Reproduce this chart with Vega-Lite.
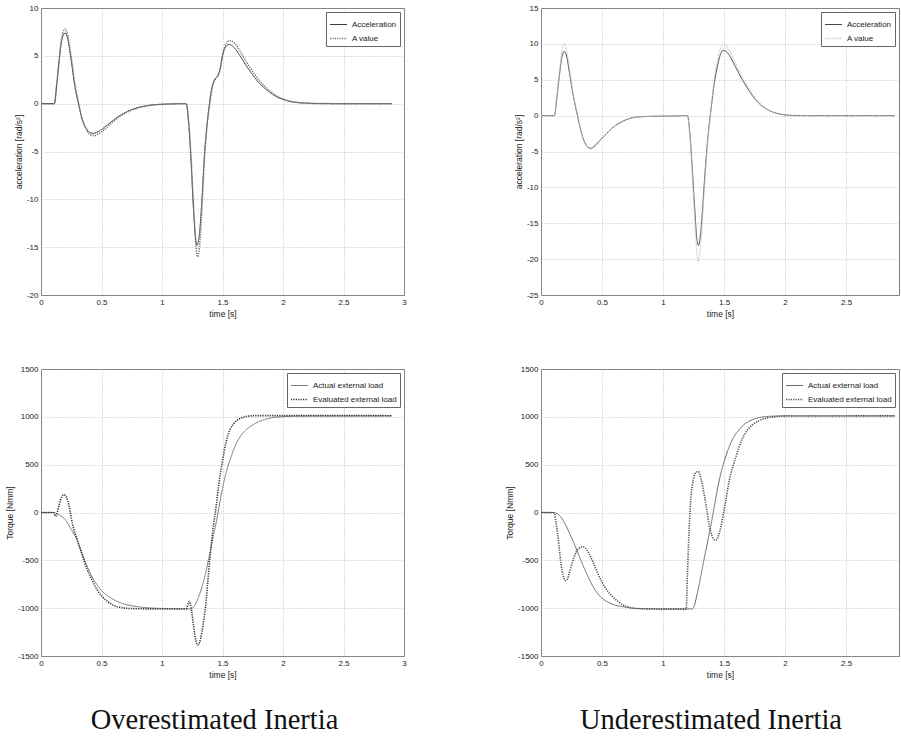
{
  "$schema": "https://vega.github.io/schema/vega-lite/v6.json",
  "padding": {"left": 5, "top": 3, "right": 0, "bottom": 5},
  "background": "white",
  "columns": 2,
  "spacing": {"row": 74, "column": 137},
  "bounds": "flush",
  "resolve": {
    "scale": {"color": "independent", "strokeDash": "independent", "strokeWidth": "independent"},
    "legend": {"color": "independent", "strokeDash": "independent"}
  },
  "config": {
    "font": "Liberation Sans",
    "view": {"stroke": "#7a7a7a", "strokeWidth": 1},
    "axis": {
      "domain": false,
      "ticks": false,
      "labelFont": "Liberation Sans",
      "labelFontSize": 8,
      "labelColor": "#222",
      "labelPadding": 3,
      "labelFlush": false,
      "labelOverlap": false,
      "titleFont": "Liberation Sans",
      "titleFontSize": 8.5,
      "titleFontWeight": "normal",
      "titleColor": "#222",
      "titlePadding": 3,
      "gridColor": "#a8a8a8",
      "gridDash": [1, 2],
      "gridWidth": 0.8
    },
    "legend": {
      "labelFont": "Liberation Sans",
      "labelFontSize": 8,
      "labelColor": "#222"
    },
    "line": {"interpolate": "monotone"}
  },
  "datasets": {
    "tl": [
      {"t":0,"v":0,"s":"Acceleration"},{"t":0.1,"v":0,"s":"Acceleration"},{"t":0.11,"v":0,"s":"Acceleration"},{"t":0.13,"v":2,"s":"Acceleration"},{"t":0.15,"v":4.5,"s":"Acceleration"},{"t":0.17,"v":6.5,"s":"Acceleration"},{"t":0.19,"v":7.3,"s":"Acceleration"},{"t":0.2,"v":7.4,"s":"Acceleration"},{"t":0.22,"v":6.8,"s":"Acceleration"},{"t":0.25,"v":4.5,"s":"Acceleration"},{"t":0.28,"v":1.8,"s":"Acceleration"},{"t":0.31,"v":0,"s":"Acceleration"},{"t":0.34,"v":-1.6,"s":"Acceleration"},{"t":0.37,"v":-2.5,"s":"Acceleration"},{"t":0.4,"v":-3.0,"s":"Acceleration"},{"t":0.43,"v":-3.1,"s":"Acceleration"},{"t":0.46,"v":-3.0,"s":"Acceleration"},{"t":0.5,"v":-2.7,"s":"Acceleration"},{"t":0.55,"v":-2.2,"s":"Acceleration"},{"t":0.6,"v":-1.7,"s":"Acceleration"},{"t":0.65,"v":-1.25,"s":"Acceleration"},{"t":0.7,"v":-0.9,"s":"Acceleration"},{"t":0.75,"v":-0.62,"s":"Acceleration"},{"t":0.8,"v":-0.42,"s":"Acceleration"},{"t":0.85,"v":-0.27,"s":"Acceleration"},{"t":0.9,"v":-0.17,"s":"Acceleration"},{"t":0.95,"v":-0.1,"s":"Acceleration"},{"t":1.0,"v":-0.06,"s":"Acceleration"},{"t":1.1,"v":-0.02,"s":"Acceleration"},{"t":1.2,"v":0,"s":"Acceleration"},{"t":1.22,"v":-2,"s":"Acceleration"},{"t":1.24,"v":-6,"s":"Acceleration"},{"t":1.26,"v":-11,"s":"Acceleration"},{"t":1.28,"v":-14.3,"s":"Acceleration"},{"t":1.29,"v":-14.8,"s":"Acceleration"},{"t":1.31,"v":-13.5,"s":"Acceleration"},{"t":1.33,"v":-10,"s":"Acceleration"},{"t":1.35,"v":-5.5,"s":"Acceleration"},{"t":1.37,"v":-2.5,"s":"Acceleration"},{"t":1.39,"v":-0.2,"s":"Acceleration"},{"t":1.41,"v":1.5,"s":"Acceleration"},{"t":1.43,"v":2.4,"s":"Acceleration"},{"t":1.46,"v":2.9,"s":"Acceleration"},{"t":1.48,"v":3.6,"s":"Acceleration"},{"t":1.5,"v":5.0,"s":"Acceleration"},{"t":1.52,"v":5.8,"s":"Acceleration"},{"t":1.555,"v":6.2,"s":"Acceleration"},{"t":1.6,"v":5.8,"s":"Acceleration"},{"t":1.65,"v":4.9,"s":"Acceleration"},{"t":1.7,"v":3.9,"s":"Acceleration"},{"t":1.75,"v":3.0,"s":"Acceleration"},{"t":1.8,"v":2.2,"s":"Acceleration"},{"t":1.85,"v":1.6,"s":"Acceleration"},{"t":1.9,"v":1.1,"s":"Acceleration"},{"t":1.95,"v":0.7,"s":"Acceleration"},{"t":2.0,"v":0.45,"s":"Acceleration"},{"t":2.05,"v":0.25,"s":"Acceleration"},{"t":2.1,"v":0.14,"s":"Acceleration"},{"t":2.2,"v":0.05,"s":"Acceleration"},{"t":2.3,"v":0.01,"s":"Acceleration"},{"t":2.5,"v":0,"s":"Acceleration"},{"t":2.9,"v":0,"s":"Acceleration"},
      {"t":0,"v":0,"s":"A value"},{"t":0.1,"v":0,"s":"A value"},{"t":0.11,"v":0,"s":"A value"},{"t":0.13,"v":2,"s":"A value"},{"t":0.15,"v":4.6,"s":"A value"},{"t":0.17,"v":6.8,"s":"A value"},{"t":0.19,"v":7.7,"s":"A value"},{"t":0.2,"v":7.8,"s":"A value"},{"t":0.22,"v":7.2,"s":"A value"},{"t":0.25,"v":4.8,"s":"A value"},{"t":0.28,"v":2.0,"s":"A value"},{"t":0.31,"v":0.1,"s":"A value"},{"t":0.34,"v":-1.6,"s":"A value"},{"t":0.37,"v":-2.6,"s":"A value"},{"t":0.4,"v":-3.2,"s":"A value"},{"t":0.44,"v":-3.35,"s":"A value"},{"t":0.47,"v":-3.2,"s":"A value"},{"t":0.5,"v":-2.95,"s":"A value"},{"t":0.55,"v":-2.4,"s":"A value"},{"t":0.6,"v":-1.85,"s":"A value"},{"t":0.65,"v":-1.35,"s":"A value"},{"t":0.7,"v":-0.97,"s":"A value"},{"t":0.75,"v":-0.67,"s":"A value"},{"t":0.8,"v":-0.45,"s":"A value"},{"t":0.85,"v":-0.29,"s":"A value"},{"t":0.9,"v":-0.18,"s":"A value"},{"t":0.95,"v":-0.11,"s":"A value"},{"t":1.0,"v":-0.07,"s":"A value"},{"t":1.1,"v":-0.02,"s":"A value"},{"t":1.2,"v":0,"s":"A value"},{"t":1.22,"v":-1.8,"s":"A value"},{"t":1.24,"v":-5.5,"s":"A value"},{"t":1.26,"v":-10.5,"s":"A value"},{"t":1.28,"v":-14.8,"s":"A value"},{"t":1.295,"v":-16.0,"s":"A value"},{"t":1.31,"v":-15,"s":"A value"},{"t":1.33,"v":-11,"s":"A value"},{"t":1.35,"v":-6,"s":"A value"},{"t":1.37,"v":-2.6,"s":"A value"},{"t":1.39,"v":-0.4,"s":"A value"},{"t":1.41,"v":1.3,"s":"A value"},{"t":1.43,"v":2.3,"s":"A value"},{"t":1.46,"v":2.9,"s":"A value"},{"t":1.48,"v":3.6,"s":"A value"},{"t":1.5,"v":5.1,"s":"A value"},{"t":1.52,"v":6.0,"s":"A value"},{"t":1.56,"v":6.6,"s":"A value"},{"t":1.6,"v":6.3,"s":"A value"},{"t":1.65,"v":5.4,"s":"A value"},{"t":1.7,"v":4.3,"s":"A value"},{"t":1.75,"v":3.35,"s":"A value"},{"t":1.8,"v":2.5,"s":"A value"},{"t":1.85,"v":1.8,"s":"A value"},{"t":1.9,"v":1.25,"s":"A value"},{"t":1.95,"v":0.8,"s":"A value"},{"t":2.0,"v":0.5,"s":"A value"},{"t":2.05,"v":0.3,"s":"A value"},{"t":2.1,"v":0.17,"s":"A value"},{"t":2.2,"v":0.06,"s":"A value"},{"t":2.3,"v":0.015,"s":"A value"},{"t":2.5,"v":0,"s":"A value"},{"t":2.9,"v":0,"s":"A value"}
    ],
    "tr": [
      {"t":0,"v":0,"s":"Acceleration"},{"t":0.1,"v":0,"s":"Acceleration"},{"t":0.11,"v":0,"s":"Acceleration"},{"t":0.13,"v":2.5,"s":"Acceleration"},{"t":0.15,"v":5.5,"s":"Acceleration"},{"t":0.17,"v":8.0,"s":"Acceleration"},{"t":0.19,"v":8.95,"s":"Acceleration"},{"t":0.21,"v":8.3,"s":"Acceleration"},{"t":0.23,"v":6.3,"s":"Acceleration"},{"t":0.26,"v":3.2,"s":"Acceleration"},{"t":0.3,"v":-0.1,"s":"Acceleration"},{"t":0.33,"v":-2.3,"s":"Acceleration"},{"t":0.36,"v":-3.8,"s":"Acceleration"},{"t":0.39,"v":-4.45,"s":"Acceleration"},{"t":0.41,"v":-4.55,"s":"Acceleration"},{"t":0.44,"v":-4.2,"s":"Acceleration"},{"t":0.48,"v":-3.5,"s":"Acceleration"},{"t":0.52,"v":-2.8,"s":"Acceleration"},{"t":0.56,"v":-2.1,"s":"Acceleration"},{"t":0.6,"v":-1.5,"s":"Acceleration"},{"t":0.65,"v":-0.95,"s":"Acceleration"},{"t":0.7,"v":-0.55,"s":"Acceleration"},{"t":0.75,"v":-0.3,"s":"Acceleration"},{"t":0.8,"v":-0.18,"s":"Acceleration"},{"t":0.9,"v":-0.1,"s":"Acceleration"},{"t":1.0,"v":-0.07,"s":"Acceleration"},{"t":1.1,"v":-0.04,"s":"Acceleration"},{"t":1.2,"v":0,"s":"Acceleration"},{"t":1.22,"v":-2.5,"s":"Acceleration"},{"t":1.24,"v":-7.5,"s":"Acceleration"},{"t":1.26,"v":-13,"s":"Acceleration"},{"t":1.28,"v":-17.6,"s":"Acceleration"},{"t":1.29,"v":-18.1,"s":"Acceleration"},{"t":1.3,"v":-17.5,"s":"Acceleration"},{"t":1.32,"v":-14,"s":"Acceleration"},{"t":1.34,"v":-9,"s":"Acceleration"},{"t":1.36,"v":-4.5,"s":"Acceleration"},{"t":1.38,"v":-1,"s":"Acceleration"},{"t":1.4,"v":1.8,"s":"Acceleration"},{"t":1.42,"v":4.5,"s":"Acceleration"},{"t":1.45,"v":7.2,"s":"Acceleration"},{"t":1.47,"v":8.5,"s":"Acceleration"},{"t":1.49,"v":9.1,"s":"Acceleration"},{"t":1.51,"v":9.0,"s":"Acceleration"},{"t":1.54,"v":8.5,"s":"Acceleration"},{"t":1.57,"v":7.6,"s":"Acceleration"},{"t":1.6,"v":6.6,"s":"Acceleration"},{"t":1.65,"v":5.0,"s":"Acceleration"},{"t":1.7,"v":3.6,"s":"Acceleration"},{"t":1.75,"v":2.4,"s":"Acceleration"},{"t":1.8,"v":1.5,"s":"Acceleration"},{"t":1.85,"v":0.9,"s":"Acceleration"},{"t":1.9,"v":0.5,"s":"Acceleration"},{"t":1.95,"v":0.25,"s":"Acceleration"},{"t":2.0,"v":0.1,"s":"Acceleration"},{"t":2.05,"v":0.03,"s":"Acceleration"},{"t":2.1,"v":0.01,"s":"Acceleration"},{"t":2.2,"v":0,"s":"Acceleration"},{"t":2.9,"v":0,"s":"Acceleration"},
      {"t":0,"v":0,"s":"A value"},{"t":0.1,"v":0,"s":"A value"},{"t":0.11,"v":0,"s":"A value"},{"t":0.13,"v":2.8,"s":"A value"},{"t":0.15,"v":6.0,"s":"A value"},{"t":0.17,"v":8.9,"s":"A value"},{"t":0.19,"v":10.0,"s":"A value"},{"t":0.21,"v":9.2,"s":"A value"},{"t":0.23,"v":7.0,"s":"A value"},{"t":0.26,"v":3.5,"s":"A value"},{"t":0.3,"v":0,"s":"A value"},{"t":0.33,"v":-2.3,"s":"A value"},{"t":0.36,"v":-3.9,"s":"A value"},{"t":0.39,"v":-4.55,"s":"A value"},{"t":0.41,"v":-4.65,"s":"A value"},{"t":0.44,"v":-4.3,"s":"A value"},{"t":0.48,"v":-3.6,"s":"A value"},{"t":0.52,"v":-2.85,"s":"A value"},{"t":0.56,"v":-2.15,"s":"A value"},{"t":0.6,"v":-1.55,"s":"A value"},{"t":0.65,"v":-0.98,"s":"A value"},{"t":0.7,"v":-0.57,"s":"A value"},{"t":0.75,"v":-0.31,"s":"A value"},{"t":0.8,"v":-0.18,"s":"A value"},{"t":0.9,"v":-0.1,"s":"A value"},{"t":1.0,"v":-0.07,"s":"A value"},{"t":1.1,"v":-0.04,"s":"A value"},{"t":1.2,"v":0,"s":"A value"},{"t":1.22,"v":-2.8,"s":"A value"},{"t":1.24,"v":-8.3,"s":"A value"},{"t":1.26,"v":-14.5,"s":"A value"},{"t":1.28,"v":-19.6,"s":"A value"},{"t":1.29,"v":-20.3,"s":"A value"},{"t":1.3,"v":-19.5,"s":"A value"},{"t":1.32,"v":-15.5,"s":"A value"},{"t":1.34,"v":-10,"s":"A value"},{"t":1.36,"v":-5,"s":"A value"},{"t":1.38,"v":-1.1,"s":"A value"},{"t":1.4,"v":2.0,"s":"A value"},{"t":1.42,"v":5.0,"s":"A value"},{"t":1.45,"v":8.0,"s":"A value"},{"t":1.47,"v":9.4,"s":"A value"},{"t":1.49,"v":10.0,"s":"A value"},{"t":1.51,"v":9.9,"s":"A value"},{"t":1.54,"v":9.2,"s":"A value"},{"t":1.57,"v":8.2,"s":"A value"},{"t":1.6,"v":7.1,"s":"A value"},{"t":1.65,"v":5.4,"s":"A value"},{"t":1.7,"v":3.9,"s":"A value"},{"t":1.75,"v":2.6,"s":"A value"},{"t":1.8,"v":1.6,"s":"A value"},{"t":1.85,"v":0.95,"s":"A value"},{"t":1.9,"v":0.52,"s":"A value"},{"t":1.95,"v":0.27,"s":"A value"},{"t":2.0,"v":0.11,"s":"A value"},{"t":2.05,"v":0.03,"s":"A value"},{"t":2.1,"v":0.01,"s":"A value"},{"t":2.2,"v":0,"s":"A value"},{"t":2.9,"v":0,"s":"A value"}
    ],
    "bl": [
      {"t":0,"v":0,"s":"Actual external load"},{"t":0.1,"v":0,"s":"Actual external load"},{"t":0.12,"v":-5,"s":"Actual external load"},{"t":0.15,"v":-25,"s":"Actual external load"},{"t":0.2,"v":-75,"s":"Actual external load"},{"t":0.26,"v":-200,"s":"Actual external load"},{"t":0.3,"v":-290,"s":"Actual external load"},{"t":0.34,"v":-430,"s":"Actual external load"},{"t":0.38,"v":-560,"s":"Actual external load"},{"t":0.42,"v":-665,"s":"Actual external load"},{"t":0.46,"v":-750,"s":"Actual external load"},{"t":0.5,"v":-815,"s":"Actual external load"},{"t":0.55,"v":-870,"s":"Actual external load"},{"t":0.6,"v":-910,"s":"Actual external load"},{"t":0.67,"v":-950,"s":"Actual external load"},{"t":0.75,"v":-975,"s":"Actual external load"},{"t":0.85,"v":-992,"s":"Actual external load"},{"t":1.0,"v":-1003,"s":"Actual external load"},{"t":1.1,"v":-1006,"s":"Actual external load"},{"t":1.24,"v":-1007,"s":"Actual external load"},{"t":1.27,"v":-970,"s":"Actual external load"},{"t":1.3,"v":-890,"s":"Actual external load"},{"t":1.33,"v":-780,"s":"Actual external load"},{"t":1.36,"v":-635,"s":"Actual external load"},{"t":1.39,"v":-460,"s":"Actual external load"},{"t":1.42,"v":-270,"s":"Actual external load"},{"t":1.45,"v":-90,"s":"Actual external load"},{"t":1.47,"v":50,"s":"Actual external load"},{"t":1.5,"v":250,"s":"Actual external load"},{"t":1.53,"v":420,"s":"Actual external load"},{"t":1.56,"v":540,"s":"Actual external load"},{"t":1.6,"v":680,"s":"Actual external load"},{"t":1.65,"v":800,"s":"Actual external load"},{"t":1.7,"v":870,"s":"Actual external load"},{"t":1.75,"v":915,"s":"Actual external load"},{"t":1.8,"v":950,"s":"Actual external load"},{"t":1.85,"v":972,"s":"Actual external load"},{"t":1.9,"v":988,"s":"Actual external load"},{"t":2.0,"v":1002,"s":"Actual external load"},{"t":2.1,"v":1008,"s":"Actual external load"},{"t":2.9,"v":1010,"s":"Actual external load"},
      {"t":0,"v":0,"s":"Evaluated external load"},{"t":0.1,"v":0,"s":"Evaluated external load"},{"t":0.11,"v":-15,"s":"Evaluated external load"},{"t":0.12,"v":-40,"s":"Evaluated external load"},{"t":0.13,"v":-20,"s":"Evaluated external load"},{"t":0.15,"v":80,"s":"Evaluated external load"},{"t":0.17,"v":160,"s":"Evaluated external load"},{"t":0.19,"v":185,"s":"Evaluated external load"},{"t":0.21,"v":160,"s":"Evaluated external load"},{"t":0.23,"v":80,"s":"Evaluated external load"},{"t":0.26,"v":-120,"s":"Evaluated external load"},{"t":0.3,"v":-290,"s":"Evaluated external load"},{"t":0.34,"v":-440,"s":"Evaluated external load"},{"t":0.38,"v":-590,"s":"Evaluated external load"},{"t":0.42,"v":-700,"s":"Evaluated external load"},{"t":0.46,"v":-800,"s":"Evaluated external load"},{"t":0.5,"v":-870,"s":"Evaluated external load"},{"t":0.55,"v":-930,"s":"Evaluated external load"},{"t":0.6,"v":-970,"s":"Evaluated external load"},{"t":0.65,"v":-990,"s":"Evaluated external load"},{"t":0.7,"v":-1000,"s":"Evaluated external load"},{"t":0.8,"v":-1006,"s":"Evaluated external load"},{"t":1.0,"v":-1008,"s":"Evaluated external load"},{"t":1.2,"v":-1008,"s":"Evaluated external load"},{"t":1.215,"v":-960,"s":"Evaluated external load"},{"t":1.225,"v":-930,"s":"Evaluated external load"},{"t":1.235,"v":-960,"s":"Evaluated external load"},{"t":1.245,"v":-1030,"s":"Evaluated external load"},{"t":1.26,"v":-1180,"s":"Evaluated external load"},{"t":1.28,"v":-1340,"s":"Evaluated external load"},{"t":1.295,"v":-1385,"s":"Evaluated external load"},{"t":1.31,"v":-1360,"s":"Evaluated external load"},{"t":1.33,"v":-1250,"s":"Evaluated external load"},{"t":1.35,"v":-1080,"s":"Evaluated external load"},{"t":1.36,"v":-985,"s":"Evaluated external load"},{"t":1.38,"v":-700,"s":"Evaluated external load"},{"t":1.4,"v":-430,"s":"Evaluated external load"},{"t":1.42,"v":-190,"s":"Evaluated external load"},{"t":1.45,"v":90,"s":"Evaluated external load"},{"t":1.47,"v":300,"s":"Evaluated external load"},{"t":1.5,"v":540,"s":"Evaluated external load"},{"t":1.53,"v":740,"s":"Evaluated external load"},{"t":1.56,"v":860,"s":"Evaluated external load"},{"t":1.6,"v":940,"s":"Evaluated external load"},{"t":1.65,"v":985,"s":"Evaluated external load"},{"t":1.7,"v":1005,"s":"Evaluated external load"},{"t":1.75,"v":1011,"s":"Evaluated external load"},{"t":1.8,"v":1013,"s":"Evaluated external load"},{"t":2.0,"v":1013,"s":"Evaluated external load"},{"t":2.9,"v":1012,"s":"Evaluated external load"}
    ],
    "br": [
      {"t":0,"v":0,"s":"Actual external load"},{"t":0.1,"v":0,"s":"Actual external load"},{"t":0.12,"v":-5,"s":"Actual external load"},{"t":0.15,"v":-30,"s":"Actual external load"},{"t":0.18,"v":-80,"s":"Actual external load"},{"t":0.21,"v":-150,"s":"Actual external load"},{"t":0.24,"v":-235,"s":"Actual external load"},{"t":0.27,"v":-320,"s":"Actual external load"},{"t":0.3,"v":-415,"s":"Actual external load"},{"t":0.34,"v":-540,"s":"Actual external load"},{"t":0.38,"v":-655,"s":"Actual external load"},{"t":0.42,"v":-760,"s":"Actual external load"},{"t":0.46,"v":-840,"s":"Actual external load"},{"t":0.5,"v":-895,"s":"Actual external load"},{"t":0.55,"v":-938,"s":"Actual external load"},{"t":0.6,"v":-965,"s":"Actual external load"},{"t":0.67,"v":-985,"s":"Actual external load"},{"t":0.75,"v":-1000,"s":"Actual external load"},{"t":0.85,"v":-1006,"s":"Actual external load"},{"t":1.0,"v":-1008,"s":"Actual external load"},{"t":1.24,"v":-1008,"s":"Actual external load"},{"t":1.26,"v":-960,"s":"Actual external load"},{"t":1.28,"v":-850,"s":"Actual external load"},{"t":1.3,"v":-730,"s":"Actual external load"},{"t":1.33,"v":-530,"s":"Actual external load"},{"t":1.36,"v":-340,"s":"Actual external load"},{"t":1.39,"v":-150,"s":"Actual external load"},{"t":1.42,"v":60,"s":"Actual external load"},{"t":1.45,"v":270,"s":"Actual external load"},{"t":1.48,"v":440,"s":"Actual external load"},{"t":1.51,"v":570,"s":"Actual external load"},{"t":1.54,"v":680,"s":"Actual external load"},{"t":1.58,"v":790,"s":"Actual external load"},{"t":1.62,"v":860,"s":"Actual external load"},{"t":1.66,"v":915,"s":"Actual external load"},{"t":1.7,"v":950,"s":"Actual external load"},{"t":1.75,"v":978,"s":"Actual external load"},{"t":1.8,"v":995,"s":"Actual external load"},{"t":1.9,"v":1007,"s":"Actual external load"},{"t":2.0,"v":1010,"s":"Actual external load"},{"t":2.9,"v":1010,"s":"Actual external load"},
      {"t":0,"v":0,"s":"Evaluated external load"},{"t":0.1,"v":0,"s":"Evaluated external load"},{"t":0.11,"v":-10,"s":"Evaluated external load"},{"t":0.12,"v":-80,"s":"Evaluated external load"},{"t":0.136,"v":-216,"s":"Evaluated external load"},{"t":0.15,"v":-380,"s":"Evaluated external load"},{"t":0.163,"v":-531,"s":"Evaluated external load"},{"t":0.18,"v":-650,"s":"Evaluated external load"},{"t":0.2,"v":-712,"s":"Evaluated external load"},{"t":0.215,"v":-700,"s":"Evaluated external load"},{"t":0.23,"v":-640,"s":"Evaluated external load"},{"t":0.25,"v":-550,"s":"Evaluated external load"},{"t":0.27,"v":-470,"s":"Evaluated external load"},{"t":0.29,"v":-410,"s":"Evaluated external load"},{"t":0.314,"v":-373,"s":"Evaluated external load"},{"t":0.34,"v":-358,"s":"Evaluated external load"},{"t":0.36,"v":-368,"s":"Evaluated external load"},{"t":0.39,"v":-420,"s":"Evaluated external load"},{"t":0.42,"v":-500,"s":"Evaluated external load"},{"t":0.46,"v":-620,"s":"Evaluated external load"},{"t":0.505,"v":-740,"s":"Evaluated external load"},{"t":0.545,"v":-820,"s":"Evaluated external load"},{"t":0.587,"v":-880,"s":"Evaluated external load"},{"t":0.63,"v":-930,"s":"Evaluated external load"},{"t":0.669,"v":-965,"s":"Evaluated external load"},{"t":0.72,"v":-990,"s":"Evaluated external load"},{"t":0.78,"v":-1003,"s":"Evaluated external load"},{"t":0.9,"v":-1008,"s":"Evaluated external load"},{"t":1.0,"v":-1010,"s":"Evaluated external load"},{"t":1.19,"v":-1010,"s":"Evaluated external load"},{"t":1.2,"v":-650,"s":"Evaluated external load"},{"t":1.21,"v":-300,"s":"Evaluated external load"},{"t":1.225,"v":100,"s":"Evaluated external load"},{"t":1.24,"v":280,"s":"Evaluated external load"},{"t":1.255,"v":380,"s":"Evaluated external load"},{"t":1.27,"v":420,"s":"Evaluated external load"},{"t":1.29,"v":428,"s":"Evaluated external load"},{"t":1.31,"v":360,"s":"Evaluated external load"},{"t":1.34,"v":167,"s":"Evaluated external load"},{"t":1.36,"v":20,"s":"Evaluated external load"},{"t":1.38,"v":-147,"s":"Evaluated external load"},{"t":1.4,"v":-240,"s":"Evaluated external load"},{"t":1.42,"v":-285,"s":"Evaluated external load"},{"t":1.435,"v":-290,"s":"Evaluated external load"},{"t":1.455,"v":-240,"s":"Evaluated external load"},{"t":1.475,"v":-147,"s":"Evaluated external load"},{"t":1.495,"v":-10,"s":"Evaluated external load"},{"t":1.516,"v":132,"s":"Evaluated external load"},{"t":1.535,"v":280,"s":"Evaluated external load"},{"t":1.557,"v":411,"s":"Evaluated external load"},{"t":1.58,"v":510,"s":"Evaluated external load"},{"t":1.6,"v":590,"s":"Evaluated external load"},{"t":1.625,"v":690,"s":"Evaluated external load"},{"t":1.652,"v":778,"s":"Evaluated external load"},{"t":1.69,"v":860,"s":"Evaluated external load"},{"t":1.734,"v":917,"s":"Evaluated external load"},{"t":1.78,"v":955,"s":"Evaluated external load"},{"t":1.816,"v":976,"s":"Evaluated external load"},{"t":1.86,"v":990,"s":"Evaluated external load"},{"t":1.9,"v":998,"s":"Evaluated external load"},{"t":2.0,"v":1008,"s":"Evaluated external load"},{"t":2.9,"v":1010,"s":"Evaluated external load"}
    ]
  },
  "concat": [
    {
      "width": 363, "height": 287,
      "data": {"name": "tl"},
      "mark": {"type": "line"},
      "encoding": {
        "x": {"field": "t", "type": "quantitative", "scale": {"domain": [0, 3], "nice": false, "zero": false},
              "axis": {"title": "time [s]", "values": [0, 0.5, 1, 1.5, 2, 2.5, 3], "labelExpr": "'' + datum.value"}},
        "y": {"field": "v", "type": "quantitative", "scale": {"domain": [-20, 10], "nice": false, "zero": false},
              "axis": {"title": "acceleration [rad/s²]", "values": [-20, -15, -10, -5, 0, 5, 10], "labelExpr": "'' + datum.value"}},
        "color": {"field": "s", "type": "nominal", "title": null, "scale": {"domain": ["Acceleration", "A value"], "range": ["#3a3a3a", "#707070"]},
                  "legend": {"orient": "top-right", "offset": 4, "strokeColor": "#666", "fillColor": "white", "padding": 3, "symbolType": "stroke", "symbolSize": 290, "symbolStrokeWidth": 1.2, "rowPadding": 0, "labelOffset": 4}},
        "strokeDash": {"field": "s", "type": "nominal", "title": null, "scale": {"domain": ["Acceleration", "A value"], "range": [[1, 0], [1.2, 1.2]]},
                  "legend": {"orient": "top-right", "offset": 4, "strokeColor": "#666", "fillColor": "white", "padding": 3, "symbolType": "stroke", "symbolSize": 290, "symbolStrokeWidth": 1.2, "rowPadding": 0, "labelOffset": 4}},
        "strokeWidth": {"field": "s", "type": "ordinal", "legend": null, "scale": {"domain": ["Acceleration", "A value"], "range": [1, 1.5]}}
      }
    },
    {
      "width": 358, "height": 287,
      "data": {"name": "tr"},
      "mark": {"type": "line"},
      "encoding": {
        "x": {"field": "t", "type": "quantitative", "scale": {"domain": [0, 2.934], "nice": false, "zero": false},
              "axis": {"title": "time [s]", "values": [0, 0.5, 1, 1.5, 2, 2.5], "labelExpr": "'' + datum.value"}},
        "y": {"field": "v", "type": "quantitative", "scale": {"domain": [-25, 15], "nice": false, "zero": false},
              "axis": {"title": "acceleration [rad/s²]", "values": [-25, -20, -15, -10, -5, 0, 5, 10, 15], "labelExpr": "'' + datum.value"}},
        "color": {"field": "s", "type": "nominal", "title": null, "scale": {"domain": ["Acceleration", "A value"], "range": ["#444444", "#c4c4c4"]},
                  "legend": {"orient": "top-right", "offset": 4, "strokeColor": "#666", "fillColor": "white", "padding": 3, "symbolType": "stroke", "symbolSize": 290, "symbolStrokeWidth": 1.2, "rowPadding": 0, "labelOffset": 4}},
        "strokeDash": {"field": "s", "type": "nominal", "title": null, "scale": {"domain": ["Acceleration", "A value"], "range": [[1, 0], [1.2, 1.2]]},
                  "legend": {"orient": "top-right", "offset": 4, "strokeColor": "#666", "fillColor": "white", "padding": 3, "symbolType": "stroke", "symbolSize": 290, "symbolStrokeWidth": 1.2, "rowPadding": 0, "labelOffset": 4}},
        "strokeWidth": {"field": "s", "type": "ordinal", "legend": null, "scale": {"domain": ["Acceleration", "A value"], "range": [1, 1.3]}}
      }
    },
    {
      "width": 363, "height": 287,
      "data": {"name": "bl"},
      "title": {"text": "Overestimated Inertia", "orient": "bottom", "anchor": "middle", "frame": "group", "font": "Liberation Serif", "fontSize": 28.5, "fontWeight": "normal", "color": "#111", "offset": 27, "dx": -8},
      "mark": {"type": "line"},
      "encoding": {
        "x": {"field": "t", "type": "quantitative", "scale": {"domain": [0, 3], "nice": false, "zero": false},
              "axis": {"title": "time [s]", "values": [0, 0.5, 1, 1.5, 2, 2.5, 3], "labelExpr": "'' + datum.value"}},
        "y": {"field": "v", "type": "quantitative", "scale": {"domain": [-1500, 1500], "nice": false, "zero": false},
              "axis": {"title": "Torque [Nmm]", "values": [-1500, -1000, -500, 0, 500, 1000, 1500], "labelExpr": "'' + datum.value"}},
        "color": {"field": "s", "type": "nominal", "title": null, "scale": {"domain": ["Actual external load", "Evaluated external load"], "range": ["#7a7a7a", "#333333"]},
                  "legend": {"orient": "top-right", "offset": 4, "strokeColor": "#666", "fillColor": "white", "padding": 3, "symbolType": "stroke", "symbolSize": 290, "symbolStrokeWidth": 1.2, "rowPadding": 0, "labelOffset": 4}},
        "strokeDash": {"field": "s", "type": "nominal", "title": null, "scale": {"domain": ["Actual external load", "Evaluated external load"], "range": [[1, 0], [1.2, 1.2]]},
                  "legend": {"orient": "top-right", "offset": 4, "strokeColor": "#666", "fillColor": "white", "padding": 3, "symbolType": "stroke", "symbolSize": 290, "symbolStrokeWidth": 1.2, "rowPadding": 0, "labelOffset": 4}},
        "strokeWidth": {"field": "s", "type": "ordinal", "legend": null, "scale": {"domain": ["Actual external load", "Evaluated external load"], "range": [1, 1.6]}}
      }
    },
    {
      "width": 358, "height": 287,
      "data": {"name": "br"},
      "title": {"text": "Underestimated Inertia", "orient": "bottom", "anchor": "middle", "frame": "group", "font": "Liberation Serif", "fontSize": 28.5, "fontWeight": "normal", "color": "#111", "offset": 27, "dx": -9},
      "mark": {"type": "line"},
      "encoding": {
        "x": {"field": "t", "type": "quantitative", "scale": {"domain": [0, 2.934], "nice": false, "zero": false},
              "axis": {"title": "time [s]", "values": [0, 0.5, 1, 1.5, 2, 2.5], "labelExpr": "'' + datum.value"}},
        "y": {"field": "v", "type": "quantitative", "scale": {"domain": [-1500, 1500], "nice": false, "zero": false},
              "axis": {"title": "Torque [Nmm]", "values": [-1500, -1000, -500, 0, 500, 1000, 1500], "labelExpr": "'' + datum.value"}},
        "color": {"field": "s", "type": "nominal", "title": null, "scale": {"domain": ["Actual external load", "Evaluated external load"], "range": ["#6a6a6a", "#505050"]},
                  "legend": {"orient": "top-right", "offset": 4, "strokeColor": "#666", "fillColor": "white", "padding": 3, "symbolType": "stroke", "symbolSize": 290, "symbolStrokeWidth": 1.2, "rowPadding": 0, "labelOffset": 4}},
        "strokeDash": {"field": "s", "type": "nominal", "title": null, "scale": {"domain": ["Actual external load", "Evaluated external load"], "range": [[1, 0], [1.2, 1.2]]},
                  "legend": {"orient": "top-right", "offset": 4, "strokeColor": "#666", "fillColor": "white", "padding": 3, "symbolType": "stroke", "symbolSize": 290, "symbolStrokeWidth": 1.2, "rowPadding": 0, "labelOffset": 4}},
        "strokeWidth": {"field": "s", "type": "ordinal", "legend": null, "scale": {"domain": ["Actual external load", "Evaluated external load"], "range": [1, 1.6]}}
      }
    }
  ]
}
